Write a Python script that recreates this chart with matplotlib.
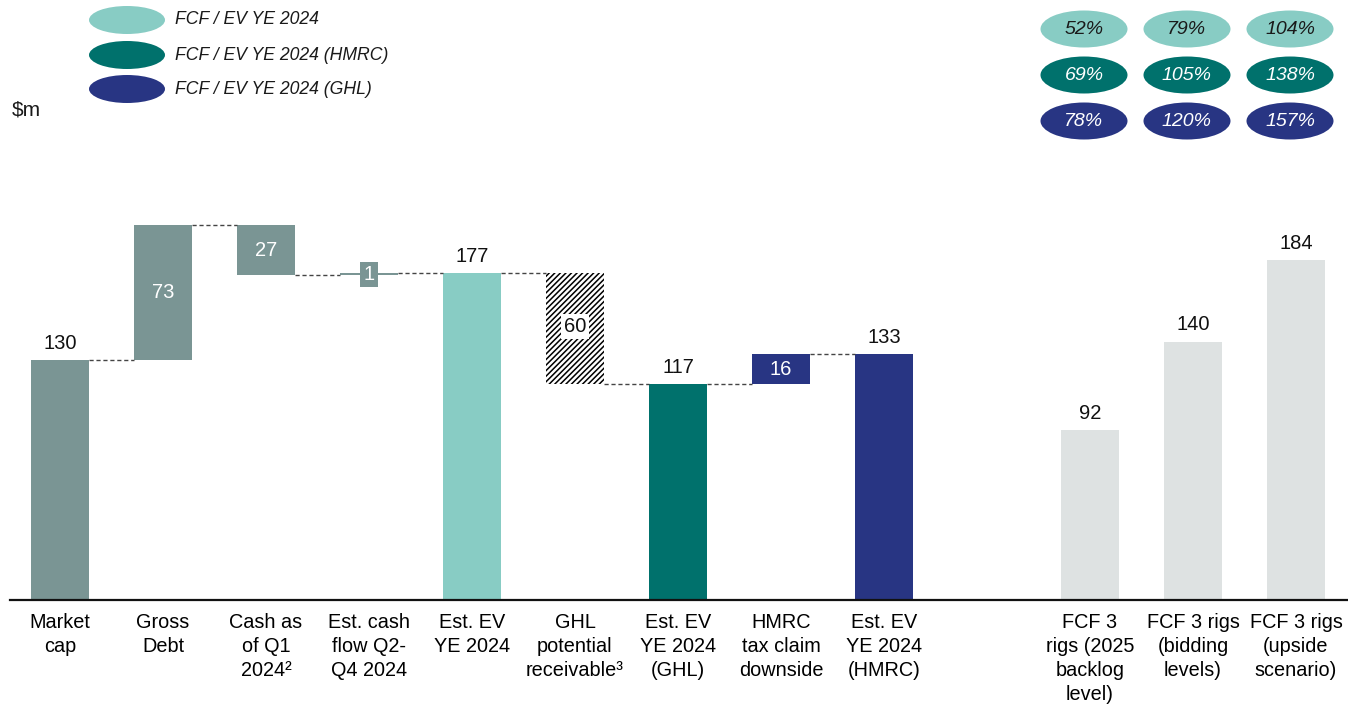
import matplotlib
matplotlib.use("Agg")
import matplotlib.pyplot as plt
from matplotlib.patches import Ellipse

plt.rcParams['font.family'] = ['Liberation Sans', 'DejaVu Sans']
plt.rcParams['hatch.linewidth'] = 1.1

# data
categories = ["Market\ncap", "Gross\nDebt", "Cash as\nof Q1\n2024²", "Est. cash\nflow Q2-\nQ4 2024",
              "Est. EV\nYE 2024", "GHL\npotential\nreceivable³", "Est. EV\nYE 2024\n(GHL)",
              "HMRC\ntax claim\ndownside", "Est. EV\nYE 2024\n(HMRC)",
              "FCF 3\nrigs (2025\nbacklog\nlevel)", "FCF 3 rigs\n(bidding\nlevels)", "FCF 3 rigs\n(upside\nscenario)"]
kinds = ["total", "delta", "delta", "delta", "total", "delta", "total", "delta", "total",
         "total", "total", "total"]
values = [130, 73, -27, 1, 177, -60, 117, 16, 133, 92, 140, 184]
bar_labels = ["130", "73", "27", "1", "177", "60", "117", "16", "133", "92", "140", "184"]

legend_labels = ["FCF / EV YE 2024", "FCF / EV YE 2024 (HMRC)", "FCF / EV YE 2024 (GHL)"]
fcf_ev = [["52%", "79%", "104%"],
          ["69%", "105%", "138%"],
          ["78%", "120%", "157%"]]

GREY = "#7A9594"
LTEAL = "#88CCC4"
DTEAL = "#00716C"
NAVY = "#283583"
LGREY = "#DEE2E2"
colors = [GREY, GREY, GREY, GREY, LTEAL, "hatch", DTEAL, NAVY, NAVY, LGREY, LGREY, LGREY]
row_colors = [LTEAL, DTEAL, NAVY]
row_text = ["#1a1a1a", "white", "white"]

xpos = [0, 1, 2, 3, 4, 5, 6, 7, 8, 10, 11, 12]
w = 0.565

fig = plt.figure(figsize=(13.48, 7.08), dpi=100)
ax = fig.add_axes([10 / 1348, 1 - 600 / 708, 1 - 10 / 1348, 400 / 708])
ax.set_xlim(-0.485, 12.505)
ax.set_ylim(0, 400 / 1.846)

level = 0
prev_top_right = None
for i, (x, k, v, c, lab) in enumerate(zip(xpos, kinds, values, colors, bar_labels)):
    if k == "total":
        bottom, height = 0, v
        level = v
    else:
        if v >= 0:
            bottom, height = level, v
        else:
            bottom, height = level + v, -v
        level = level + v
    # dashed connector from previous bar
    if prev_top_right is not None and i < 9:
        ax.plot([prev_top_right[0], x - w / 2], [prev_top_right[1], prev_top_right[1]],
                color="#444444", lw=1, ls=(0, (3, 2)))
    if c == "hatch":
        ax.bar(x, height, w, bottom=bottom, color="white", edgecolor="black", hatch="//////", lw=0)
    else:
        ax.bar(x, height, w, bottom=bottom, color=c, lw=0)
    prev_top_right = (x + w / 2, level)

    if k == "total":
        ax.text(x, v + 4, lab, ha="center", va="bottom", fontsize=14.5, color="#111111")
    elif c == "hatch":
        ax.text(x, bottom + height / 2 + 1, lab, ha="center", va="center", fontsize=14.5,
                color="#111111", bbox=dict(boxstyle="square,pad=0.15", fc="white", ec="none"))
    elif abs(v) < 5:
        ax.text(x, bottom + height / 2, lab, ha="center", va="center", fontsize=14.5,
                color="white", bbox=dict(boxstyle="square,pad=0.15", fc=GREY, ec="none"))
    else:
        ax.text(x, bottom + height / 2, lab, ha="center", va="center", fontsize=14.5, color="white")

ax.set_xticks(xpos)
ax.set_xticklabels(categories, fontsize=14.3, linespacing=1.35)
ax.tick_params(axis="x", length=0, pad=9)
ax.set_yticks([])
for s in ["top", "right", "left"]:
    ax.spines[s].set_visible(False)
ax.spines["bottom"].set_linewidth(1.6)
ax.spines["bottom"].set_color("#111111")

# legend (top left)
W, H = 1348, 708
for j, (lab, c) in enumerate(zip(legend_labels, row_colors)):
    yc = [20, 55, 89][j]
    fig.patches.append(Ellipse((127 / W, 1 - yc / H), 76 / W, 28 / H, transform=fig.transFigure,
                               color=c, lw=0))
    fig.text(175 / W, 1 - yc / H, lab, ha="left", va="center", fontsize=12.7, style="italic",
             color="#1a1a1a")

fig.text(12 / W, 1 - 110 / H, "$m", ha="left", va="center", fontsize=15, color="#1a1a1a")

# FCF / EV grid (top right)
for r in range(3):
    for cidx in range(3):
        xc = [1084, 1187, 1290][cidx]
        yc = [29, 75, 121][r]
        fig.patches.append(Ellipse((xc / W, 1 - yc / H), 87 / W, 37 / H, transform=fig.transFigure,
                                   color=row_colors[r], lw=0))
        fig.text(xc / W, 1 - yc / H, fcf_ev[r][cidx], ha="center", va="center", fontsize=14,
                 style="italic", color=row_text[r])

fig.savefig("out.png", dpi=100)
